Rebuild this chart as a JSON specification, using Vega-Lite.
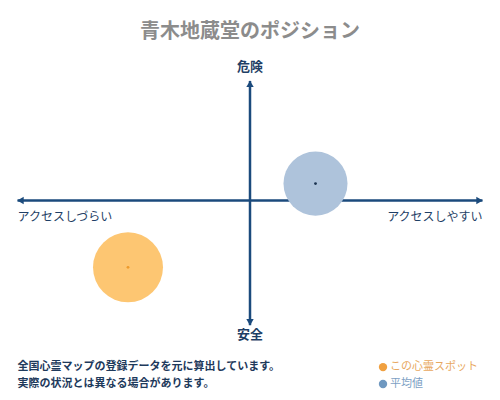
{
  "$schema": "https://vega.github.io/schema/vega-lite/v6.json",
  "width": 500, "height": 400,
  "autosize": {"type": "fit", "contains": "padding"},
  "padding": {"top": 22, "left": 0, "right": 0, "bottom": 0},
  "title": {
    "text": "青木地蔵堂のポジション",
    "fontSize": 20, "fontWeight": "bold", "color": "#8c8c8c",
    "font": "Noto Sans CJK JP", "anchor": "middle", "offset": 4
  },
  "config": {"view": {"stroke": null}, "font": "Noto Sans CJK JP"},
  "datasets": {
    "axes": [
      {"x": -0.93, "y": 0, "x2": 0.93, "y2": 0},
      {"x": 0, "y": 0.6, "x2": 0, "y2": -0.625}
    ],
    "heads": [
      {"x": -0.918, "y": 0, "dir": "left"},
      {"x": 0.918, "y": 0, "dir": "right"},
      {"x": 0, "y": 0.585, "dir": "up"},
      {"x": 0, "y": -0.61, "dir": "down"}
    ],
    "spots": [
      {"type": "この心霊スポット", "x": -0.488, "y": -0.335},
      {"type": "平均値", "x": 0.262, "y": 0.085}
    ],
    "vlabels": [
      {"text": "危険", "x": 0, "y": 0.67},
      {"text": "安全", "x": 0, "y": -0.675}
    ],
    "llabels": [{"text": "アクセスしづらい", "x": -0.93, "y": -0.08}],
    "rlabels": [{"text": "アクセスしやすい", "x": 0.93, "y": -0.08}],
    "notes": [
      {"text": "全国心霊マップの登録データを元に算出しています。", "x": -0.93, "y": -0.835},
      {"text": "実際の状況とは異なる場合があります。", "x": -0.93, "y": -0.92}
    ],
    "legend": [
      {"type": "この心霊スポット", "x": 0.532, "y": -0.835},
      {"type": "平均値", "x": 0.532, "y": -0.92}
    ]
  },
  "encoding": {
    "x": {"field": "x", "type": "quantitative", "scale": {"domain": [-1, 1]}, "axis": null},
    "y": {"field": "y", "type": "quantitative", "scale": {"domain": [-1, 0.775]}, "axis": null}
  },
  "layer": [
    {
      "data": {"name": "axes"},
      "mark": {"type": "rule", "color": "#1b4a7c", "strokeWidth": 2.5},
      "encoding": {
        "x2": {"field": "x2"},
        "y2": {"field": "y2"}
      }
    },
    {
      "data": {"name": "heads"},
      "mark": {"type": "point", "filled": true, "color": "#1b4a7c", "size": 55, "opacity": 1},
      "encoding": {
        "shape": {
          "field": "dir", "type": "nominal", "legend": null,
          "scale": {"domain": ["left", "right", "up", "down"], "range": ["triangle-left", "triangle-right", "triangle-up", "triangle-down"]}
        }
      }
    },
    {
      "data": {"name": "spots"},
      "transform": [{"filter": "datum.type === 'この心霊スポット'"}],
      "mark": {"type": "circle", "opacity": 1, "color": "#fdc672", "size": 4900},
      "encoding": {}
    },
    {
      "data": {"name": "spots"},
      "transform": [{"filter": "datum.type === '平均値'"}],
      "mark": {"type": "circle", "opacity": 1, "color": "#aec3db", "size": 4100},
      "encoding": {}
    },
    {
      "data": {"name": "spots"},
      "mark": {"type": "point", "filled": true, "size": 8, "opacity": 1},
      "encoding": {
        "color": {
          "field": "type", "type": "nominal", "legend": null,
          "scale": {"domain": ["この心霊スポット", "平均値"], "range": ["#ee9a2c", "#1b3350"]}
        }
      }
    },
    {
      "data": {"name": "vlabels"},
      "mark": {"type": "text", "align": "center", "baseline": "middle", "fontSize": 13, "fontWeight": "bold", "color": "#1f3f66"},
      "encoding": {"text": {"field": "text"}}
    },
    {
      "data": {"name": "llabels"},
      "mark": {"type": "text", "align": "left", "baseline": "middle", "fontSize": 12, "color": "#1f3f66"},
      "encoding": {"text": {"field": "text"}}
    },
    {
      "data": {"name": "rlabels"},
      "mark": {"type": "text", "align": "right", "baseline": "middle", "fontSize": 12, "color": "#1f3f66"},
      "encoding": {"text": {"field": "text"}}
    },
    {
      "data": {"name": "notes"},
      "mark": {"type": "text", "align": "left", "baseline": "middle", "fontSize": 11, "fontWeight": "bold", "color": "#1e3a5c"},
      "encoding": {"text": {"field": "text"}}
    },
    {
      "data": {"name": "legend"},
      "mark": {"type": "point", "filled": true, "shape": "circle", "size": 70, "opacity": 1},
      "encoding": {
        "color": {
          "field": "type", "type": "nominal", "legend": null,
          "scale": {"domain": ["この心霊スポット", "平均値"], "range": ["#f0a040", "#6f98c0"]}
        }
      }
    },
    {
      "data": {"name": "legend"},
      "mark": {"type": "text", "align": "left", "baseline": "middle", "fontSize": 11, "dx": 7},
      "encoding": {
        "text": {"field": "type"},
        "color": {
          "field": "type", "type": "nominal", "legend": null,
          "scale": {"domain": ["この心霊スポット", "平均値"], "range": ["#e8a860", "#7d9fc4"]}
        }
      }
    }
  ],
  "resolve": {"scale": {"color": "independent"}}
}
